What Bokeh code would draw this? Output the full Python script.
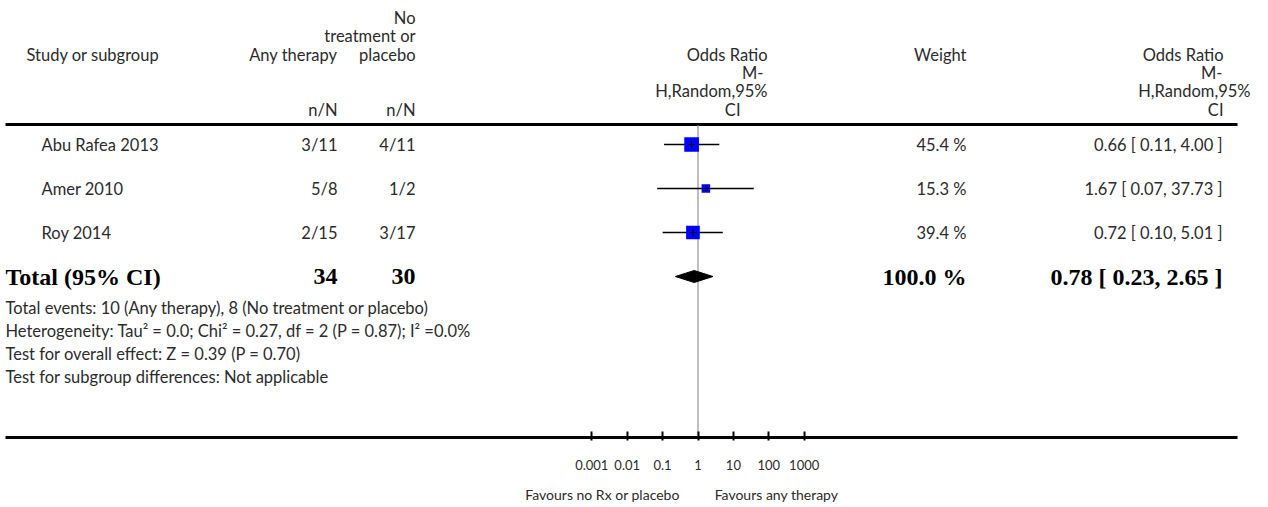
import math
from bokeh.plotting import figure
from bokeh.models import Range1d, LogScale, LogAxis, FixedTicker
from bokeh.core.properties import value
from bokeh.embed import file_html
from bokeh.resources import INLINE

# ---------------- data ----------------
studies = ["Abu Rafea 2013", "Amer 2010", "Roy 2014"]
therapy_nN = ["3/11", "5/8", "2/15"]
placebo_nN = ["4/11", "1/2", "3/17"]
weights = [45.4, 15.3, 39.4]
or_est = [0.66, 1.67, 0.72]
ci_lo = [0.11, 0.07, 0.10]
ci_hi = [4.00, 37.73, 5.01]

total_therapy_N = 34
total_placebo_N = 30
total_weight = 100.0
total_or = 0.78
total_lo = 0.23
total_hi = 2.65

tick_values = [0.001, 0.01, 0.1, 1, 10, 100, 1000]
tick_labels = ["0.001", "0.01", "0.1", "1", "10", "100", "1000"]

footer_lines = [
    "Total events: 10 (Any therapy), 8 (No treatment or placebo)",
    "Heterogeneity: Tau\u00b2 = 0.0; Chi\u00b2 = 0.27, df = 2 (P = 0.87); I\u00b2 =0.0%",
    "Test for overall effect: Z = 0.39 (P = 0.70)",
    "Test for subgroup differences: Not applicable",
]
favours_labels = ["Favours no Rx or placebo", "Favours any therapy"]

# ---------------- layout ----------------
W, H = 1260, 505
FONT_NAME = "Lato"
FONT = value(FONT_NAME)
SERIF = value("Liberation Serif")
TXT = "#2b2b2b"
FS = "16.5px"
BS = "24px"

ONE_X = 697.5      # page x of OR = 1
DECADE = 35.4      # px per decade
X0, X1 = 0, W
Y_TOP, Y_BOT = 0, 440


def or_at(px):
    """odds-ratio value that sits at page x = px on the log scale"""
    return 10 ** ((px - ONE_X) / DECADE)


p = figure(width=W, height=H, output_backend="svg", toolbar_location=None,
           x_range=Range1d(X0, X1), y_range=Range1d(Y_BOT, Y_TOP),
           x_axis_location=None, y_axis_location=None,
           min_border_left=0, min_border_right=0, min_border_top=0,
           min_border_bottom=H - (Y_BOT - Y_TOP))
p.grid.visible = False
p.outline_line_color = None
p.background_fill_color = "white"
p.border_fill_color = "white"

p.extra_x_ranges = {"or": Range1d(or_at(X0), or_at(X1))}
p.extra_x_scales = {"or": LogScale()}

ax = LogAxis(x_range_name="or", ticker=FixedTicker(ticks=tick_values),
             major_label_overrides={v: l for v, l in zip(tick_values, tick_labels)},
             axis_line_color=None, major_tick_in=9, major_tick_out=0,
             major_tick_line_width=2, major_tick_line_color="black",
             minor_tick_line_color=None, major_label_standoff=19,
             major_label_text_font=FONT_NAME, major_label_text_font_size="13px",
             major_label_text_color=TXT)
p.add_layout(ax, "below")

# second axis row carries the "Favours ..." captions
fav_pos = [or_at(602), or_at(776)]
ax2 = LogAxis(x_range_name="or", ticker=FixedTicker(ticks=fav_pos),
              major_label_overrides={v: l for v, l in zip(fav_pos, favours_labels)},
              axis_line_color=None, major_tick_line_color=None, minor_tick_line_color=None,
              major_tick_in=0, major_tick_out=0, major_label_standoff=13,
              major_label_text_font=FONT_NAME, major_label_text_font_size="14px",
              major_label_text_color=TXT)
p.add_layout(ax2, "below")


def txt(xs, ys, texts, align, size=FS, font=FONT, style="normal", color=TXT):
    p.text(x=xs, y=ys, text=texts, text_align=align, text_baseline="middle",
           text_font=font, text_font_size=size, text_font_style=style, text_color=color)


# header
txt([26], [54], ["Study or subgroup"], "left")
txt([337, 337], [54, 109], ["Any therapy", "n/N"], "right")
txt([415] * 4, [17, 35, 54, 109], ["No", "treatment or", "placebo", "n/N"], "right")
txt([767, 763, 767, 740], [54, 72, 90, 109], ["Odds Ratio", "M-", "H,Random,95%", "CI"], "right")
txt([966], [54], ["Weight"], "right")
txt([1223, 1222, 1250, 1223], [54, 72, 90, 109], ["Odds Ratio", "M-", "H,Random,95%", "CI"], "right")

# rows
ROW0, ROWSTEP = 144, 44
n = len(studies)
ys = [ROW0 + ROWSTEP * i for i in range(n)]
y_tot = ROW0 + ROWSTEP * n

txt([41] * n, ys, studies, "left")
txt([337] * n, ys, therapy_nN, "right")
txt([415] * n, ys, placebo_nN, "right")
txt([966] * n, ys, [f"{w:.1f} %" for w in weights], "right")
txt([1222] * n, ys, [f"{o:.2f} [ {l:.2f}, {h:.2f} ]" for o, l, h in zip(or_est, ci_lo, ci_hi)], "right")

# total row
txt([5], [y_tot], ["Total (95% CI)"], "left", size=BS, font=SERIF, style="bold", color="black")
txt([337, 415], [y_tot, y_tot], [str(total_therapy_N), str(total_placebo_N)], "right",
    size=BS, font=SERIF, style="bold", color="black")
txt([966], [y_tot], [f"{total_weight:.1f} %"], "right", size=BS, font=SERIF, style="bold", color="black")
txt([1222], [y_tot], [f"{total_or:.2f} [ {total_lo:.2f}, {total_hi:.2f} ]"], "right",
    size=BS, font=SERIF, style="bold", color="black")

# footer
FOOT0, FOOTSTEP = 307, 23
txt([5] * len(footer_lines), [FOOT0 + FOOTSTEP * i for i in range(len(footer_lines))], footer_lines, "left")

# rules
p.segment(x0=[5, 5], x1=[1237, 1237], y0=[124, 437], y1=[124, 437], line_color="black", line_width=3)
p.segment(x0=[1], x1=[1], y0=[125], y1=[436], x_range_name="or", line_color="#a8a8a8", line_width=1.5)

# forest marks
p.segment(x0=ci_lo, x1=ci_hi, y0=ys, y1=ys, x_range_name="or", line_color="black", line_width=1.5)
p.scatter(x=or_est, y=ys, marker="square", size=[2.18 * math.sqrt(w) for w in weights],
          fill_color="#0000ff", line_color=None, x_range_name="or")
p.scatter(x=or_est, y=ys, marker="cross", size=7, line_color="black", line_width=1, x_range_name="or")
p.patch(x=[total_lo, total_or, total_hi, total_or], y=[y_tot, y_tot - 6, y_tot, y_tot + 6],
        x_range_name="or", fill_color="black", line_color="black", line_width=1)

open("out.html", "w").write(file_html(p, INLINE))
